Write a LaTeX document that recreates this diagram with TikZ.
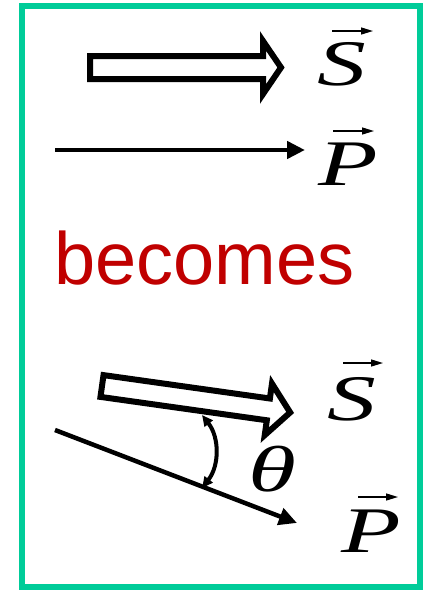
\documentclass[tikz,border=0pt]{standalone}
\usepackage{fontspec}
\setmainfont{Liberation Serif}
\newfontfamily\arialf{Liberation Sans}
\usetikzlibrary{arrows.meta}
\definecolor{frameg}{RGB}{0,204,153}
\definecolor{wordred}{RGB}{192,0,0}
\tikzset{
  hollow/.style={draw=black, fill=white, line width=6pt, line join=miter, miter limit=10},
  thinvec/.style={line width=4.5pt, -{Triangle[length=18pt,width=17pt]}},
  vecar/.style={line width=1.4pt, -{Triangle[length=12pt,width=7pt]}},
  anglear/.style={line width=4pt, {Triangle[length=11pt,width=10pt]}-{Triangle[length=11pt,width=10pt]}},
  symb/.style={inner sep=0pt, anchor=base west, xscale=1.5, transform shape, font=\fontsize{65}{70}\selectfont\itshape},
}
\begin{document}
\begin{tikzpicture}[x=1pt,y=-1pt]
\useasboundingbox (0,0) rectangle (429,590);
\draw[frameg, line width=6pt] (21.5,6) rectangle (420,587);
% top hollow arrow S
\draw[hollow] (90,56) -- (263,56) -- (263,41) -- (281,67.5) -- (263,94) -- (263,79) -- (90,79) -- cycle;
\node[symb] (S1) at (317,85) {S};
\draw[vecar] ([shift={(15,-54)}]S1.base west) -- ++(41,0);
% top P
\coordinate (p1a) at (55,150);
\coordinate (p1b) at (305,150);
\draw[thinvec] (p1a) -- (p1b);
\node[symb] (P1) at (318,185) {P};
\draw[vecar] ([shift={(15,-54)}]P1.base west) -- ++(41,0);
% becomes
\node[inner sep=0pt, anchor=base west, text=wordred, font=\arialf\fontsize{74}{80}\selectfont] (bec) at (54,284) {becomes};
% bottom hollow arrow S (tilted)
\begin{scope}[shift={(102,386)}, rotate=-8]
\draw[hollow] (0,-11) -- (168,-11) -- (168,-26) -- (190,0) -- (168,26) -- (168,11) -- (0,11) -- cycle;
\end{scope}
\node[symb] (S2) at (327,420) {S};
\draw[vecar] ([shift={(16,-57)}]S2.base west) -- ++(40,0);
% bottom P
\coordinate (p2a) at (55,430);
\coordinate (p2b) at (297,523);
\draw[thinvec] (p2a) -- (p2b);
\node[symb] (P2) at (341,552) {P};
\draw[vecar] ([shift={(17,-55)}]P2.base west) -- ++(40,0);
% angle
\coordinate (t1) at (202,415);
\coordinate (t2) at (202,488);
\draw[anglear] (t1) to[bend left=38] (t2);
\node[symb] (th) at (248,491) {θ};
\end{tikzpicture}
\end{document}
